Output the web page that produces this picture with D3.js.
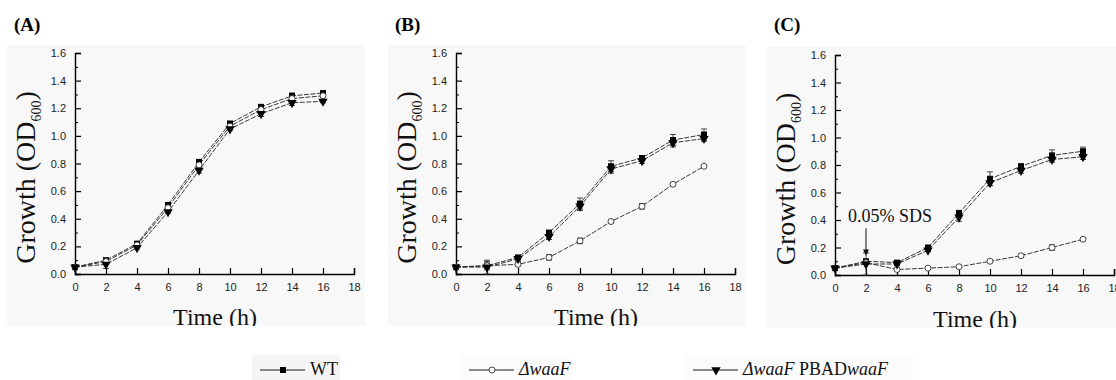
<!DOCTYPE html>
<html><head><meta charset="utf-8">
<script src="https://cdn.jsdelivr.net/npm/d3@7"></script>
<style>body{margin:0;background:#fff}svg{display:block}</style>
</head><body>
<svg id="c" width="1116" height="380"></svg>
<script>
const hours = [0,2,4,6,8,10,12,14,16];
const xTicks = [0,2,4,6,8,10,12,14,16,18];
const yTicks = [0.0,0.2,0.4,0.6,0.8,1.0,1.2,1.4,1.6];
const seriesNames = ["WT","ΔwaaF","ΔwaaF PBADwaaF"];
const panelLabels = ["(A)","(B)","(C)"];

const aWT   = [0.05,0.10,0.22,0.50,0.81,1.09,1.21,1.29,1.31];
const aDel  = [0.05,0.09,0.21,0.48,0.79,1.07,1.19,1.27,1.29];
const aComp = [0.05,0.07,0.19,0.45,0.75,1.05,1.16,1.24,1.25];
const aWTErr   = [0.01,0.01,0.01,0.01,0.02,0.01,0.01,0.02,0.01];
const aDelErr  = [0.01,0.01,0.01,0.01,0.01,0.01,0.01,0.01,0.01];
const aCompErr = [0.01,0.03,0.01,0.01,0.02,0.01,0.02,0.02,0.01];

const bWT   = [0.05,0.06,0.12,0.30,0.51,0.78,0.84,0.97,1.01];
const bDel  = [0.05,0.06,0.07,0.12,0.24,0.38,0.49,0.65,0.78];
const bComp = [0.05,0.05,0.11,0.27,0.49,0.76,0.82,0.95,0.98];
const bWTErr   = [0.01,0.03,0.01,0.01,0.04,0.04,0.01,0.04,0.04];
const bDelErr  = [0.01,0.01,0.01,0.02,0.02,0.01,0.02,0.01,0.01];
const bCompErr = [0.01,0.05,0.02,0.02,0.03,0.03,0.02,0.03,0.02];

const cWT   = [0.05,0.10,0.09,0.20,0.45,0.70,0.79,0.87,0.90];
const cDel  = [0.05,0.09,0.04,0.05,0.06,0.10,0.14,0.20,0.26];
const cComp = [0.05,0.08,0.08,0.18,0.42,0.67,0.76,0.84,0.86];
const cWTErr   = [0.01,0.01,0.01,0.01,0.02,0.05,0.02,0.04,0.03];
const cDelErr  = [0.01,0.01,0.01,0.01,0.01,0.01,0.01,0.02,0.01];
const cCompErr = [0.01,0.08,0.01,0.01,0.03,0.02,0.02,0.02,0.02];

const annotationText = "0.05% SDS";
const annotationHour = 2;

const panels = [
  {label: panelLabels[0], box:[7,45,358,281], ax:75, y0:274, y1:53, series:[aWT,aDel,aComp], errs:[aWTErr,aDelErr,aCompErr]},
  {label: panelLabels[1], box:[388,45,358,281], ax:456, y0:274, y1:53, series:[bWT,bDel,bComp], errs:[bWTErr,bDelErr,bCompErr]},
  {label: panelLabels[2], box:[767,47,360,281], ax:835, y0:275, y1:55, series:[cWT,cDel,cComp], errs:[cWTErr,cDelErr,cCompErr], annot:true}
];

const svg = d3.select("#c");
const serif = "'Liberation Serif','Times New Roman',serif";
const sans = "'Liberation Sans',Arial,sans-serif";
const dashes = ["5,1.5","5,1.5","5,1.5"];

function marker(g, type, x, y){
  if(type===0){
    g.append("rect").attr("x",x-3).attr("y",y-3).attr("width",6).attr("height",6).attr("fill","#000");
  } else if(type===1){
    g.append("circle").attr("cx",x).attr("cy",y).attr("r",3).attr("fill","#fff").attr("stroke","#333").attr("stroke-width",0.9);
  } else {
    g.append("path").attr("d",d3.symbol(d3.symbolTriangle,38)()).attr("transform",`translate(${x},${y}) rotate(180)`).attr("fill","#000");
  }
}

panels.forEach((p,pi)=>{
  const clipId = "clip"+pi;
  svg.append("clipPath").attr("id",clipId).append("rect")
    .attr("x",p.box[0]).attr("y",p.box[1]).attr("width",p.box[2]).attr("height",p.box[3]);
  svg.append("text").attr("x",p.box[0]+7).attr("y",31)
    .attr("font-family",serif).attr("font-weight","bold").attr("font-size",19).text(p.label);
  const g = svg.append("g").attr("clip-path",`url(#${clipId})`);
  g.append("rect").attr("x",p.box[0]).attr("y",p.box[1]).attr("width",p.box[2]).attr("height",p.box[3]).attr("fill","#f8f8f8");

  const x = d3.scaleLinear().domain([0,18]).range([p.ax, p.ax+279]);
  const y = d3.scaleLinear().domain([0,1.6]).range([p.y0, p.y1]);

  // y axis
  const ya = g.append("g").attr("transform",`translate(${p.ax},0)`)
    .call(d3.axisLeft(y).tickValues(yTicks).tickFormat(d3.format(".1f")).tickSize(-6).tickPadding(9));
  ya.select(".domain").attr("stroke","#000").attr("stroke-width",1.4);
  ya.selectAll(".tick line").attr("stroke","#000").attr("stroke-width",1.2);
  ya.selectAll(".tick text").attr("font-family",sans).attr("font-size",11).attr("fill","#222");
  g.append("g").attr("transform",`translate(${p.ax},0)`)
    .call(d3.axisLeft(y).tickValues(d3.range(0.1,1.6,0.2)).tickFormat("").tickSize(-3))
    .call(s=>{s.select(".domain").remove(); s.selectAll("line").attr("stroke","#000");});

  // x axis
  const xa = g.append("g").attr("transform",`translate(0,${p.y0})`)
    .call(d3.axisBottom(x).tickValues(xTicks).tickFormat(d3.format("d")).tickSize(-6).tickPadding(9));
  xa.select(".domain").attr("stroke","#000").attr("stroke-width",1.4);
  xa.selectAll(".tick line").attr("stroke","#000").attr("stroke-width",1.2);
  xa.selectAll(".tick text").attr("font-family",sans).attr("font-size",11).attr("fill","#222");

  // axis titles
  const yt = g.append("text").attr("transform",`translate(${p.ax-40},${(p.y0+p.y1)/2+14}) rotate(-90)`)
    .attr("text-anchor","middle").attr("font-family",serif).attr("font-size",28).attr("fill","#111");
  yt.append("tspan").text("Growth (OD");
  yt.append("tspan").attr("font-size",14).attr("dy",6).text("600");
  yt.append("tspan").attr("dy",-6).text(")");
  g.append("text").attr("x",p.ax+140).attr("y",p.box[1]+p.box[3]-1)
    .attr("text-anchor","middle").attr("font-family",serif).attr("font-size",24).attr("fill","#111").text("Time (h)");

  // series
  const line = d3.line().x((d,i)=>x(hours[i])).y(d=>y(d));
  p.series.forEach((s,si)=>{
    g.append("path").datum(s).attr("d",line).attr("fill","none")
      .attr("stroke","#222").attr("stroke-width",0.9).attr("stroke-dasharray",dashes[si]);
  });
  p.series.forEach((s,si)=>{
    const e = p.errs[si];
    s.forEach((v,i)=>{
      const cx = x(hours[i]);
      const top = y(v+e[i]), bot = y(v-e[i]);
      g.append("line").attr("x1",cx).attr("x2",cx).attr("y1",top).attr("y2",bot).attr("stroke","#333").attr("stroke-width",0.9);
      g.append("line").attr("x1",cx-3).attr("x2",cx+3).attr("y1",top).attr("y2",top).attr("stroke","#333").attr("stroke-width",0.9);
      g.append("line").attr("x1",cx-3).attr("x2",cx+3).attr("y1",bot).attr("y2",bot).attr("stroke","#333").attr("stroke-width",0.9);
    });
  });
  p.series.forEach((s,si)=>{
    s.forEach((v,i)=>marker(g, si, x(hours[i]), y(v)));
  });

  if(p.annot){
    const ax0 = x(annotationHour);
    g.append("text").attr("x",ax0-18).attr("y",y(0.385)).attr("font-family",serif).attr("font-size",18).attr("fill","#111").text(annotationText);
    g.append("line").attr("x1",ax0).attr("x2",ax0).attr("y1",y(0.34)).attr("y2",y(0.17)).attr("stroke","#111").attr("stroke-width",1);
    g.append("path").attr("d",`M${ax0-3},${y(0.185)} L${ax0+3},${y(0.185)} L${ax0},${y(0.14)} Z`).attr("fill","#111");
  }
});

// legend
const legendX = [260, 469, 693];
const legendY = 370;
const legendBoxW = [88, 112, 228];
seriesNames.forEach((n,i)=>{
  const lg = svg.append("g");
  lg.append("rect").attr("x",legendX[i]-8).attr("y",legendY-15).attr("width", legendBoxW[i]).attr("height",30).attr("fill", i===0?"#f5f5f5":"#fcfcfc");
  lg.append("line").attr("x1",legendX[i]).attr("x2",legendX[i]+45).attr("y1",legendY).attr("y2",legendY).attr("stroke","#000").attr("stroke-width",0.9);
  marker(lg, i, legendX[i]+23, legendY);
  const t = lg.append("text").attr("x",legendX[i]+50).attr("y",legendY+5).attr("font-family",serif).attr("font-size",18).attr("fill","#111");
  if(i===0){ t.text("WT"); }
  else if(i===1){ t.append("tspan").attr("font-style","italic").text("ΔwaaF"); }
  else {
    t.append("tspan").attr("font-style","italic").text("ΔwaaF");
    t.append("tspan").text(" PBAD");
    t.append("tspan").attr("font-style","italic").text("waaF");
  }
});
</script>
</body></html>
